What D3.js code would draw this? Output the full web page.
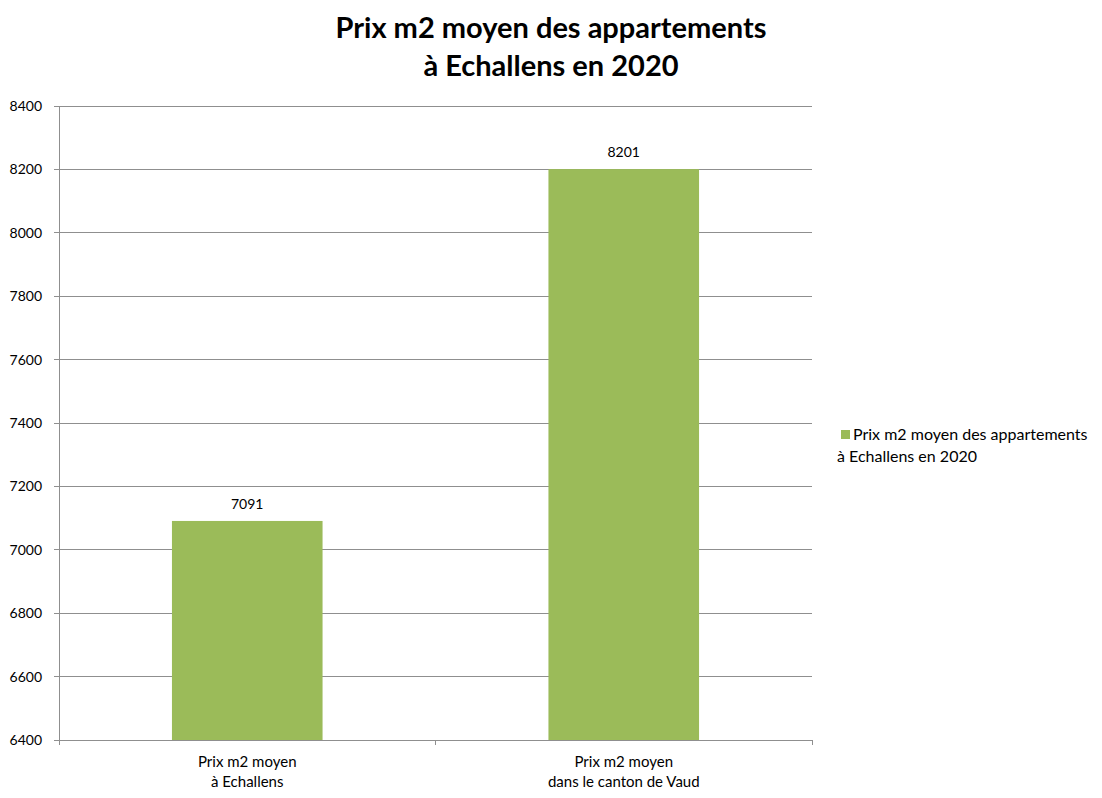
<!DOCTYPE html>
<html><head><meta charset="utf-8">
<script src="https://cdn.jsdelivr.net/npm/d3@7"></script>
<style>body{margin:0;background:#fff}svg{display:block}</style>
</head><body>
<script>
const categories = [["Prix m2 moyen","à Echallens"],["Prix m2 moyen","dans le canton de Vaud"]];
const values = [7091, 8201];
const yTicks = [6400,6600,6800,7000,7200,7400,7600,7800,8000,8200,8400];
const titleLines = ["Prix m2 moyen des appartements","à Echallens en 2020"];
const legendLines = ["Prix m2 moyen des appartements","à Echallens en 2020"];

const W=1102,H=798;
const font="Lato, 'Open Sans', sans-serif";
const svg=d3.select("body").append("svg").attr("width",W).attr("height",H);
const m={l:59,r:812,t:106,b:740};
const y=d3.scaleLinear().domain([6400,8400]).range([m.b,m.t]);
const x=d3.scaleBand().domain(d3.range(categories.length)).range([m.l,m.r]).paddingInner(0.6).paddingOuter(0.3);
const gridColor="#8f8f8f";

svg.append("g").selectAll("line").data(yTicks).join("line")
 .attr("x1",m.l-5).attr("x2",m.r).attr("y1",d=>y(d)).attr("y2",d=>y(d))
 .attr("stroke",gridColor).attr("stroke-width",1).attr("shape-rendering","crispEdges");
svg.append("line").attr("x1",m.l).attr("x2",m.l).attr("y1",m.t).attr("y2",m.b)
 .attr("stroke",gridColor).attr("shape-rendering","crispEdges");
svg.append("g").selectAll("text").data(yTicks).join("text")
 .attr("x",m.l-17).attr("y",d=>y(d)).attr("dy","0.35em").attr("text-anchor","end")
 .attr("font-family",font).attr("font-size",14).attr("fill","#000").text(d=>d);

const bounds=[m.l,(m.l+m.r)/2,m.r];
svg.append("g").selectAll("line").data(bounds).join("line")
 .attr("x1",d=>d).attr("x2",d=>d).attr("y1",m.b).attr("y2",m.b+5)
 .attr("stroke",gridColor).attr("shape-rendering","crispEdges");

svg.append("g").selectAll("rect").data(values).join("rect")
 .attr("x",(d,i)=>x(i)).attr("width",x.bandwidth())
 .attr("y",d=>y(d)).attr("height",d=>m.b-y(d)).attr("fill","#9bbb59");

svg.append("g").selectAll("text").data(values).join("text")
 .attr("x",(d,i)=>x(i)+x.bandwidth()/2).attr("y",d=>y(d)-12)
 .attr("text-anchor","middle").attr("font-family",font).attr("font-size",14).text(d=>d);

const cat=svg.append("g").selectAll("text").data(categories).join("text")
 .attr("x",(d,i)=>x(i)+x.bandwidth()/2).attr("y",767)
 .attr("text-anchor","middle").attr("font-family",font).attr("font-size",15);
cat.selectAll("tspan").data(d=>d).join("tspan")
 .attr("x",function(){return this.parentNode.getAttribute("x");})
 .attr("dy",(d,i)=>i?20:0).text(d=>d);

svg.append("g").selectAll("text").data(titleLines).join("text")
 .attr("x",551).attr("y",(d,i)=>38+i*38).attr("text-anchor","middle")
 .attr("font-family",font).attr("font-weight","bold").attr("font-size",29).text(d=>d);

svg.append("rect").attr("x",841).attr("y",430).attr("width",9).attr("height",9).attr("fill","#9bbb59");
svg.append("g").selectAll("text").data(legendLines).join("text")
 .attr("x",(d,i)=>i?837:853).attr("y",(d,i)=>440+i*22)
 .attr("font-family",font).attr("font-size",16).text(d=>d);
</script>
</body></html>
